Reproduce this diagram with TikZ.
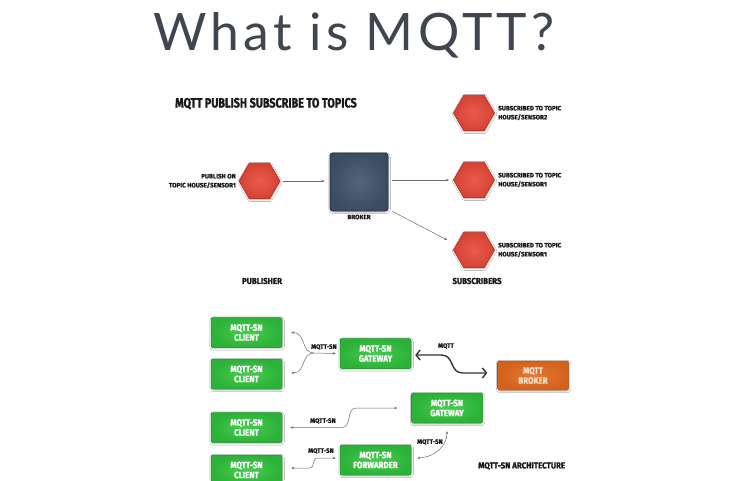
\documentclass[tikz,border=0pt]{standalone}
\usepackage{fontspec}
\usetikzlibrary{shapes.geometric,arrows.meta,calc,shadows.blur}
\newfontfamily\latofont[LetterSpace=8.3]{Lato}
\newfontfamily\condH[FakeStretch=0.8,FakeBold=1.2]{Fira Sans}
\newfontfamily\condM[FakeStretch=0.92,FakeBold=1.2]{Fira Sans}
\newfontfamily\condG[FakeStretch=0.86,FakeBold=1]{Fira Sans}
\newfontfamily\condT[FakeBold=1.2]{Fira Sans}
\definecolor{titlecol}{RGB}{64,70,80}
\definecolor{hexred}{RGB}{214,66,52}
\definecolor{hexlight}{RGB}{232,92,74}
\definecolor{hexborder}{RGB}{168,50,38}
\definecolor{brkdark}{RGB}{58,77,97}
\definecolor{brklight}{RGB}{82,101,122}
\definecolor{brkborder}{RGB}{36,47,60}
\definecolor{gfill}{RGB}{44,178,56}
\definecolor{glight}{RGB}{70,204,80}
\definecolor{gborder}{RGB}{32,140,42}
\definecolor{ofill}{RGB}{212,98,28}
\definecolor{olight}{RGB}{228,122,50}
\definecolor{oborder}{RGB}{168,76,18}
\definecolor{otext}{RGB}{250,222,200}
\definecolor{conngray}{RGB}{110,110,110}
\definecolor{labeltext}{RGB}{25,25,25}
\definecolor{darkarrow}{RGB}{45,55,62}
\begin{document}
\begin{tikzpicture}[x=1pt,y=-1pt,
  >={Stealth[length=3pt,width=2.6pt]},
  hexnode/.style={regular polygon, regular polygon sides=6, minimum size=41pt, inner sep=0pt,
    draw=hexborder, line width=0.6pt, inner color=hexlight, outer color=hexred,
    blur shadow={shadow xshift=0.6pt, shadow yshift=-1pt, shadow opacity=25, shadow blur steps=5}},
  brokerbox/.style={rectangle, rounded corners=3pt, minimum size=58pt, inner sep=0pt,
    draw=brkborder, line width=0.9pt, inner color=brklight, outer color=brkdark,
    blur shadow={shadow xshift=0.6pt, shadow yshift=-1pt, shadow opacity=30, shadow blur steps=5}},
  gbox/.style={rectangle, rounded corners=2pt, minimum width=71pt, minimum height=30pt, inner sep=0pt,
    draw=gborder, line width=0.5pt, inner color=glight, outer color=gfill, text=white, align=center,
    font=\condG\bfseries\fontsize{9.2}{10}\selectfont,
    blur shadow={shadow xshift=0.6pt, shadow yshift=-1pt, shadow opacity=25, shadow blur steps=5}},
  obox/.style={gbox, draw=oborder, inner color=olight, outer color=ofill, text=otext, minimum height=29pt},
  tiny/.style={font=\condT\bfseries\fontsize{6.3}{9}\selectfont, text=labeltext, inner sep=0pt},
  midlbl/.style={font=\condM\bfseries\fontsize{8.6}{9.5}\selectfont, text=labeltext, inner sep=0pt},
  headlbl/.style={font=\condH\bfseries\fontsize{13.5}{15}\selectfont, text=labeltext, inner sep=0pt},
  conn/.style={draw=conngray, line width=0.5pt},
  bigconn/.style={draw=darkarrow, line width=1.4pt,
    arrows={Straight Barb[length=4pt,width=10pt]-Straight Barb[length=4pt,width=10pt]}}
]
\useasboundingbox (0,0) rectangle (730,480);
\clip (0,0) rectangle (730,480);
\fill[white] (0,0) rectangle (730,480);

% title
\node[anchor=base west, inner sep=0pt, font=\latofont\fontsize{51.6}{60}\selectfont, text=titlecol]
  (title) at (153,50) {What is MQTT?};

% ---------- publish / subscribe ----------
\node[headlbl, anchor=base west] (head) at (175,107.5) {MQTT PUBLISH SUBSCRIBE TO TOPICS};

\node[hexnode] (pub) at (259.5,181) {};
\node[tiny, anchor=east, align=right] (publbl) at (236,181) {PUBLISH ON\\TOPIC HOUSE/SENSOR1};

\node[brokerbox] (brk) at (359,182) {};
\node[tiny] (brklbl) at (359,217) {BROKER};

\node[hexnode] (s1) at (474,113) {};
\node[hexnode] (s2) at (474,180) {};
\node[hexnode] (s3) at (474,250) {};
\node[tiny, anchor=west, align=left] (s1l) at (498,113) {SUBSCRIBED TO TOPIC\\HOUSE/SENSOR2};
\node[tiny, anchor=west, align=left] (s2l) at (498,180) {SUBSCRIBED TO TOPIC\\HOUSE/SENSOR1};
\node[tiny, anchor=west, align=left] (s3l) at (498,250) {SUBSCRIBED TO TOPIC\\HOUSE/SENSOR1};

\node[midlbl] (publisher) at (262,281) {PUBLISHER};
\node[midlbl] (subscribers) at (477,281) {SUBSCRIBERS};

\draw[conn,->,shorten <=3pt,shorten >=5pt] (pub.east) -- (pub.east -| brk.west);
\draw[conn,->,shorten <=4pt,shorten >=4pt] (brk.east |- s2.west) -- (s2.west);
\draw[conn,->] ($(brk.south east)+(4,0)$) -- ($(s3.west)+(-6,-10)$);

% ---------- MQTT-SN architecture ----------
\node[gbox] (c1) at (246.5,332.5) {MQTT-SN\\CLIENT};
\node[gbox] (c2) at (246.5,374) {MQTT-SN\\CLIENT};
\node[gbox] (c3) at (246.5,427.5) {MQTT-SN\\CLIENT};
\node[gbox] (c4) at (246.5,470) {MQTT-SN\\CLIENT};
\node[gbox] (g1) at (375.5,353.5) {MQTT-SN\\GATEWAY};
\node[gbox] (g2) at (447,408) {MQTT-SN\\GATEWAY};
\node[gbox] (fw) at (375.5,460) {MQTT-SN\\FORWARDER};
\node[obox] (mb) at (533,375.5) {MQTT\\BROKER};

\coordinate (J) at (314,353);
\draw[conn,<->] ($(c1.east)+(9,0)$) .. controls (306,332.5) and (301,353) .. (J) -- ($(g1.west)+(-4,0)$);
\draw[conn,<-] ($(c2.east)+(9,-1)$) .. controls (306,373) and (301,353) .. (J);
\node[tiny] (l1) at (324,347) {MQTT-SN};

\draw[bigconn] ($(g1.east)+(4,1.5)$) -- (441,355) .. controls (455,355) and (449,373) .. (463,373) -- ($(mb.west)+(-10,-2.5)$);
\node[tiny] (l2) at (446,346) {MQTT};

\draw[conn,<->] ($(c3.east)+(8,0)$) -- (342,427.5) .. controls (352,427.5) and (346,408) .. (356,408) -- ($(g2.west)+(-14,0)$);
\node[tiny] (l3) at (323,421) {MQTT-SN};

\draw[conn,<->] ($(c4.east)+(9,-2)$) -- (309,468) .. controls (316,468) and (311,458) .. (318,458) -- ($(fw.west)+(-4,-2)$);
\node[tiny] (l4) at (321,451) {MQTT-SN};

\draw[conn,<->] ($(fw.east)+(6,-2)$) .. controls (436,457) and (447,445) .. ($(g2.south)+(0,8)$);
\node[tiny] (l5) at (430,442) {MQTT-SN};

\node[midlbl, anchor=west] (arch) at (478,466) {MQTT-SN ARCHITECTURE};
\end{tikzpicture}
\end{document}
